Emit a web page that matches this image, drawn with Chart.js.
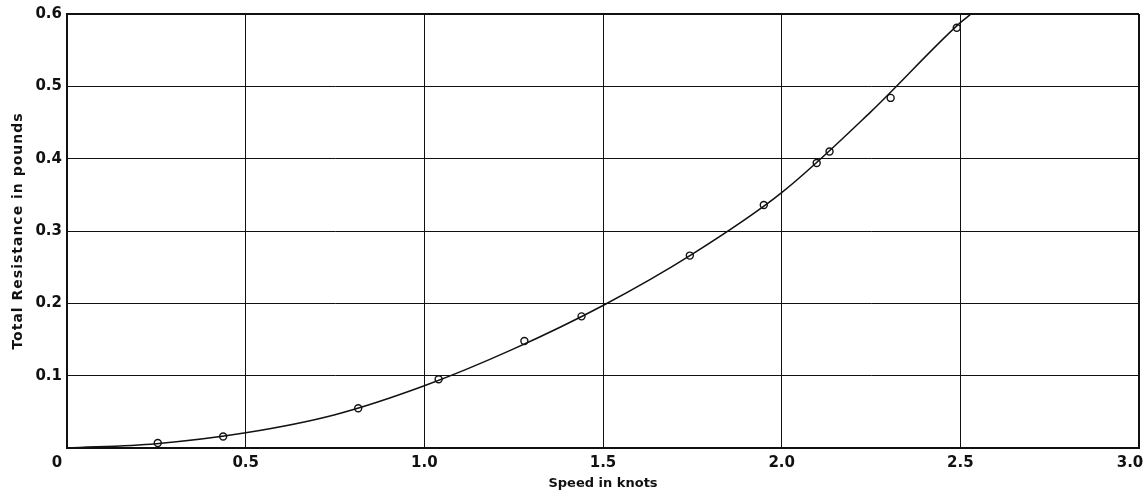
<!DOCTYPE html>
<html>
<head>
<meta charset="utf-8">
<script src="https://cdn.jsdelivr.net/npm/chart.js@4.4.0/dist/chart.umd.min.js"></script>
<style>
  html, body { margin: 0; padding: 0; background: #fff; }
  #wrap { width: 1148px; height: 495px; }
</style>
</head>
<body>
<div id="wrap"><canvas id="resistanceChart" width="1148" height="495"></canvas></div>
<script>
// measured points (speed in knots, resistance in pounds)
let speedPoints = [0.254, 0.437, 0.815, 1.04, 1.28, 1.44, 1.743, 1.95, 2.098, 2.134, 2.305, 2.49];
let resistancePoints = [0.007, 0.016, 0.055, 0.095, 0.148, 0.182, 0.266, 0.336, 0.394, 0.41, 0.484, 0.581];

// faired curve
let curveSpeed = [0, 0.25, 0.5, 0.75, 1.0, 1.25, 1.5, 1.75, 2.0, 2.25, 2.5, 2.53];
let curveResistance = [0, 0.006, 0.021, 0.046, 0.086, 0.137, 0.197, 0.268, 0.353, 0.465, 0.588, 0.6];

let xTickLabels = ["0", "0.5", "1.0", "1.5", "2.0", "2.5", "3.0"];
let yTickLabels = ["", "0.1", "0.2", "0.3", "0.4", "0.5", "0.6"];

const tickFont = {family: "DejaVu Sans", size: 15, weight: "bold"};

function toXY(xs, ys) {
    return xs.map((x, i) => ({x: x, y: ys[i]}));
}

// the end labels on the speed axis sit a little to the left of their grid lines
const shiftEndLabels = {
    id: 'shiftEndLabels',
    beforeDraw(chart) {
        let items = chart.scales.x.getLabelItems();
        if (items.length && !items.shifted) {
            items[0].options.translation[0] -= 10;
            items[items.length - 1].options.translation[0] -= 9;
            items.shifted = true;
        }
        let yScale = chart.scales.y;
        if (!yScale.spacedTitle) {
            let drawTitle = yScale.drawTitle;
            yScale.drawTitle = function () {
                let ctx = this.ctx;
                let old = ctx.letterSpacing;
                ctx.letterSpacing = '1px';
                drawTitle.apply(this, arguments);
                ctx.letterSpacing = old;
            };
            yScale.spacedTitle = true;
        }
    }
};

new Chart(document.getElementById('resistanceChart'), {
    type: 'scatter',
    data: {
        datasets: [{
            label: 'Curve',
            type: 'line',
            data: toXY(curveSpeed, curveResistance),
            borderColor: '#111',
            borderWidth: 1.5,
            pointRadius: 0,
            cubicInterpolationMode: 'monotone',
            fill: false
        }, {
            label: 'Measured',
            data: toXY(speedPoints, resistancePoints),
            showLine: false,
            pointRadius: 3.5,
            pointBackgroundColor: '#fff',
            pointBorderColor: '#111',
            pointBorderWidth: 1.4
        }]
    },
    plugins: [shiftEndLabels],
    options: {
        responsive: false,
        animation: false,
        layout: {padding: {left: 0, right: 9, top: 14, bottom: 0}},
        plugins: {legend: {display: false}, tooltip: {enabled: false}},
        scales: {
            x: {
                type: 'linear',
                min: 0, max: 3,
                ticks: {
                    stepSize: 0.5,
                    padding: 6,
                    color: '#111',
                    font: tickFont,
                    maxRotation: 0,
                    callback: (v, i) => xTickLabels[i]
                },
                grid: {
                    color: '#111',
                    drawTicks: false,
                    lineWidth: ctx => (ctx.tick && ctx.tick.value === 3 ? 2 : 1)
                },
                border: {display: true, color: '#111', width: 2},
                title: {
                    display: true,
                    text: 'Speed in knots',
                    color: '#111',
                    font: {family: "DejaVu Sans", size: 13, weight: "bold"},
                    padding: {top: 0, bottom: 4}
                },
                afterFit: scale => {
                    scale.height = 47;
                    scale.paddingLeft = 0;
                    scale.paddingRight = 0;
                }
            },
            y: {
                min: 0, max: 0.6,
                ticks: {
                    stepSize: 0.1,
                    padding: 5,
                    color: '#111',
                    font: tickFont,
                    callback: (v, i) => yTickLabels[i]
                },
                grid: {
                    color: '#111',
                    drawTicks: false,
                    lineWidth: ctx => (ctx.tick && ctx.index === 6 ? 2 : 1)
                },
                border: {display: true, color: '#111', width: 2},
                title: {
                    display: true,
                    text: 'Total Resistance in pounds',
                    color: '#111',
                    font: {family: "DejaVu Sans", size: 14, weight: "bold"},
                    padding: {top: 10, bottom: 0}
                },
                afterFit: scale => {
                    scale.width = 67;
                    scale.paddingTop = 0;
                    scale.paddingBottom = 0;
                }
            }
        }
    }
});
</script>
</body>
</html>
